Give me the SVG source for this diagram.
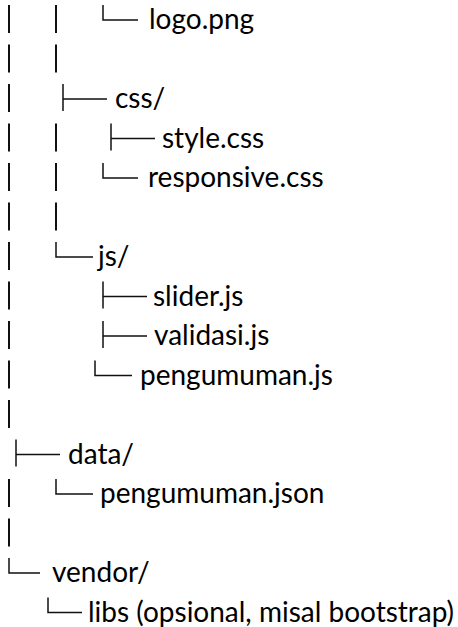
<svg xmlns="http://www.w3.org/2000/svg" width="458" height="627" viewBox="0 0 458 627">
  <style>
    .name { font-family: Lato, "Open Sans", "Liberation Sans", sans-serif; font-size: 28px; fill: #000; }
    .pipe { stroke: #111; stroke-width: 2; fill: none; }
    .box { stroke: #111; stroke-width: 1.5; fill: none; }
  </style>
  <rect width="458" height="627" fill="#fff"/>

  <!-- tree branches: pipes, tees and corners -->
  <g id="connectors">
    <!-- outer column -->
    <path class="pipe" d="M9 5V33M9 44.5V72.5M9 84V112M9 123.5V151.5M9 163V191M9 202.5V230.5M9 242V270M9 281.5V309.5M9 321V349M9 360.5V388.5M9 400V428M9 479V507M9 518.5V546.5"/>
    <!-- second column -->
    <path class="pipe" d="M56 5V33M56 44.5V72.5M56 123.5V151.5M56 163V191M56 202.5V230.5"/>
    <!-- └── logo.png -->
    <path class="box" d="M103 5V20H138"/>
    <!-- ├── css/ -->
    <path class="box" d="M63 84V111M63 99H107"/>
    <!-- ├── style.css -->
    <path class="box" d="M111 123.5V150.5M111 138.5H155"/>
    <!-- └── responsive.css -->
    <path class="box" d="M103 163V178H138"/>
    <!-- └── js/ -->
    <path class="box" d="M56 242V257H93"/>
    <!-- ├── slider.js -->
    <path class="box" d="M103 281.5V308.5M103 296.5H147"/>
    <!-- ├── validasi.js -->
    <path class="box" d="M103 321V348M103 336H147"/>
    <!-- └── pengumuman.js -->
    <path class="box" d="M95 360.5V375.5H132"/>
    <!-- ├── data/ -->
    <path class="box" d="M16 439.5V466.5M16 454.5H60"/>
    <!-- └── pengumuman.json -->
    <path class="box" d="M56 479V494H93"/>
    <!-- └── vendor/ -->
    <path class="box" d="M9 558V573H40"/>
    <!-- └── libs -->
    <path class="box" d="M48 597.5V612.5H82"/>
  </g>

  <g id="logo-png"><text class="name" x="149" y="29">logo.png</text></g>
  <g id="css"><text class="name" x="115" y="108">css/</text></g>
  <g id="style-css"><text class="name" x="162" y="147.5">style.css</text></g>
  <g id="responsive-css"><text class="name" x="148" y="187">responsive.css</text></g>
  <g id="js"><text class="name" x="98" y="266">js/</text></g>
  <g id="slider-js"><text class="name" x="153" y="305.5">slider.js</text></g>
  <g id="validasi-js"><text class="name" x="154" y="345">validasi.js</text></g>
  <g id="pengumuman-js"><text class="name" x="140" y="384.5">pengumuman.js</text></g>
  <g id="data"><text class="name" x="68" y="463.5">data/</text></g>
  <g id="pengumuman-json"><text class="name" x="100" y="503">pengumuman.json</text></g>
  <g id="vendor"><text class="name" x="52" y="582">vendor/</text></g>
  <g id="libs"><text class="name" x="88" y="621.5">libs (opsional, misal bootstrap)</text></g>
</svg>
